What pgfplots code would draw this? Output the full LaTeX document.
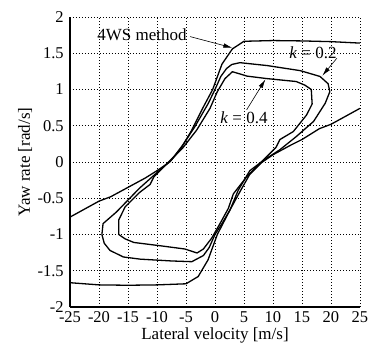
\documentclass[border=0pt]{standalone}
\usepackage{fontspec}
\setmainfont{Liberation Serif}
\usepackage{pgfplots}
\pgfplotsset{compat=1.18}
\usetikzlibrary{arrows.meta}
\tikzset{curve/.style={black, line width=1.3pt, line join=round, mark=none}}
\begin{document}
\begin{tikzpicture}
\useasboundingbox (-70pt,-40pt) rectangle (302pt,307pt);
\begin{axis}[
  at={(0,0)}, anchor=south west,
  scale only axis, width=290pt, height=290pt,
  xmin=-25, xmax=25, ymin=-2, ymax=2,
  xtick={-25,-20,...,25},
  ytick={-2,-1.5,-1,-0.5,0,0.5,1,1.5,2},
  axis x line=bottom, axis y line=left,
  axis line style={-, line width=1.1pt},
  grid=major,
  major grid style={black, line width=0.7pt, dash pattern=on 0.8pt off 2.2pt},
  tick style={draw=none},
  /pgf/number format/assume math mode=true,
  ticklabel style={font=\fontsize{16.5}{18}\selectfont},
  xticklabel style={inner sep=2pt},
  yticklabel style={inner sep=4pt},
  xlabel={Lateral velocity [m/s]},
  ylabel={Yaw rate [rad/s]},
  xlabel style={font=\fontsize{17}{20}\selectfont, at={(axis description cs:0.5,0)}, anchor=base, yshift=-33pt},
  ylabel style={font=\fontsize{17}{20}\selectfont, at={(axis description cs:-0.155,0.5)}, anchor=center},
]
% 4WS method, upper branch
\addplot[curve] coordinates {(25,1.64) (20,1.66) (15,1.67) (10,1.675) (5,1.665) (3.0,1.56) (1.2,1.35) (-0.4,1.0) (-2.0,0.76) (-4.0,0.44) (-6.0,0.17) (-7.8,0.0) (-10,-0.12) (-12,-0.22) (-15,-0.35) (-18,-0.48) (-20,-0.54) (-25,-0.76)};
% 4WS method, lower branch
\addplot[curve] coordinates {(-25,-1.665) (-20,-1.695) (-15,-1.70) (-10,-1.695) (-5,-1.68) (-2.9,-1.58) (-1.2,-1.35) (0.4,-1.0) (2.59,-0.66) (4.3,-0.41) (6,-0.17) (8,-0.01) (10,0.10) (13,0.23) (15,0.31) (18,0.46) (20,0.52) (25,0.74)};
% k = 0.2
\addplot[curve] coordinates {(-19.5,-1.0) (-19.3,-0.85) (-17,-0.69) (-13,-0.36) (-9.5,-0.11) (-7.6,0.02) (-5.5,0.24) (-3.45,0.49) (-1.15,0.81) (0,1.0) (1.0,1.18) (2.0,1.29) (2.9,1.345) (4.3,1.37) (9,1.33) (14.7,1.26) (18.1,1.18) (19.5,1.08) (19.8,0.97) (19.0,0.81) (17,0.56) (14,0.35) (11.2,0.17) (8.5,0.03) (6,-0.12) (4,-0.39) (2.6,-0.66) (1.2,-0.85) (0,-1.0) (-1.0,-1.18) (-2,-1.29) (-4,-1.375) (-7.5,-1.365) (-12.9,-1.34) (-15.8,-1.31) (-18.1,-1.22) (-19.1,-1.12) (-19.5,-1.0)};
% k = 0.4
\addplot[curve] coordinates {(-16.6,-1.0) (-16.6,-0.8) (-15.5,-0.62) (-13,-0.42) (-11.2,-0.31) (-10.5,-0.2) (-8,0.0) (-5.5,0.2) (-3.16,0.44) (-0.86,0.74) (0.4,0.97) (1.72,1.15) (3.0,1.245) (4.5,1.21) (5.5,1.185) (9,1.15) (14,1.11) (15.5,1.06) (16.6,1.0) (16.75,0.8) (15.8,0.65) (13.5,0.42) (11.2,0.31) (10.5,0.2) (8,0.0) (5.5,-0.2) (3.16,-0.44) (2.3,-0.64) (0.86,-0.85) (-0.57,-1.05) (-2.0,-1.2) (-3.1,-1.255) (-5.2,-1.20) (-9,-1.16) (-14,-1.11) (-15.5,-1.06) (-16.6,-1.0)};
% annotations
\node[font=\fontsize{17}{20}\selectfont] at (axis cs:-12.6,1.75) {4WS method};
\draw[-{Latex[length=9pt,width=4.5pt]}, line width=0.6pt] (axis cs:-4.3,1.73) -- (axis cs:3.0,1.575);
\node[font=\fontsize{17}{20}\selectfont] at (axis cs:16.9,1.51) {\textit{k} = 0.2};
\draw[-{Latex[length=9pt,width=4.5pt]}, line width=0.6pt] (axis cs:21.0,1.43) -- (axis cs:18.5,1.19);
\node[font=\fontsize{17}{20}\selectfont] at (axis cs:5.0,0.614) {\textit{k} = 0.4};
\draw[-{Latex[length=9pt,width=4.5pt]}, line width=0.6pt] (axis cs:5.46,0.72) -- (axis cs:8.7,1.14);
\end{axis}
\end{tikzpicture}
\end{document}
